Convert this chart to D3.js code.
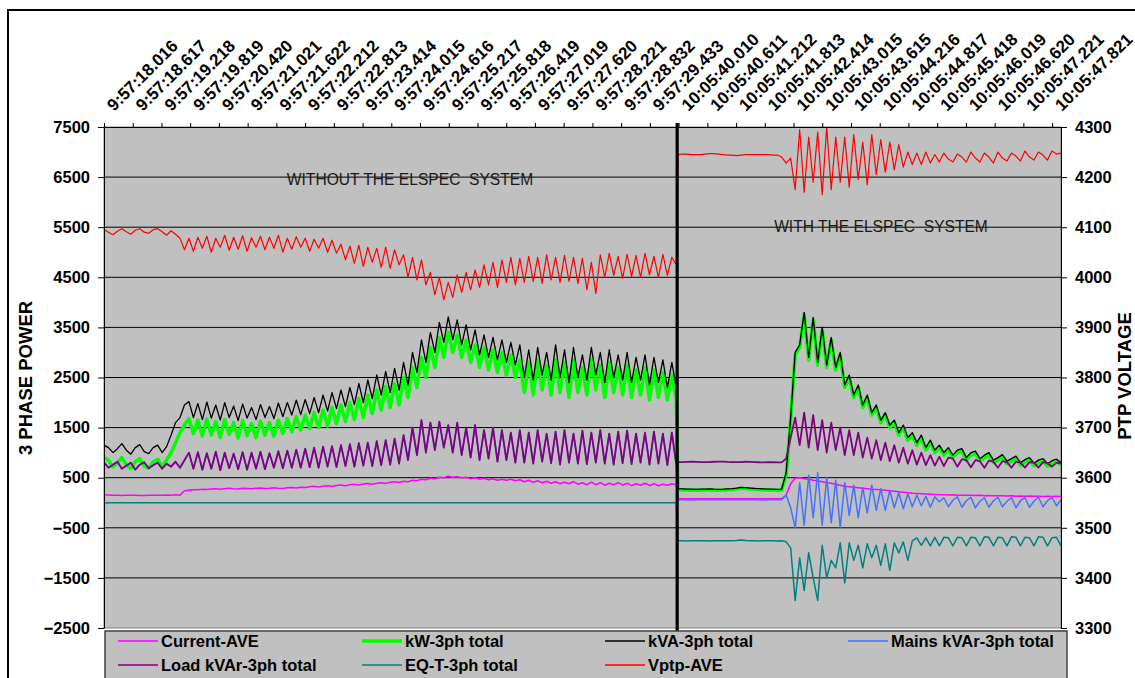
<!DOCTYPE html>
<html>
<head>
<meta charset="utf-8">
<script src="https://cdn.jsdelivr.net/npm/d3@7"></script>
<style>
  body { margin: 0; background: #fff; }
  svg  { display: block; font-family: "Liberation Sans", Arial, sans-serif; }
  .axis text { font-weight: bold; font-size: 16.5px; fill: #000; }
  .axis path, .axis line { stroke: #000; }
  .xlab text { font-weight: bold; font-size: 17px; fill: #000; }
</style>
</head>
<body>
<svg id="chart" width="1135" height="678"></svg>
<script>
// ── Data ─────────────────────────────────────────────────────────────────────
const xLabels = [
  "9:57:18.016","9:57:18.617","9:57:19.218","9:57:19.819","9:57:20.420",
  "9:57:21.021","9:57:21.622","9:57:22.212","9:57:22.813","9:57:23.414",
  "9:57:24.015","9:57:24.616","9:57:25.217","9:57:25.818","9:57:26.419",
  "9:57:27.019","9:57:27.620","9:57:28.221","9:57:28.832","9:57:29.433",
  "10:05:40.010","10:05:40.611","10:05:41.212","10:05:41.813","10:05:42.414",
  "10:05:43.015","10:05:43.615","10:05:44.216","10:05:44.817","10:05:45.418",
  "10:05:46.019","10:05:46.620","10:05:47.221","10:05:47.821"
];
const powerTicks   = [-2500, -1500, -500, 500, 1500, 2500, 3500, 4500, 5500, 6500, 7500];
const voltageTicks = [3300, 3400, 3500, 3600, 3700, 3800, 3900, 4000, 4100, 4200, 4300];

// label-index span of each recording (left: without, right: with the system)
const SEG_L = [0, 19.92];
const SEG_R = [19.98, 33.31];

// Current-AVE
const curL = [160,155,150,150,145,150,150,150,145,145,150,150,150,150,155,150,160,150,
  240,250,260,260,270,265,275,280,270,280,290,280,275,290,285,280,290,295,285,290,300,290,285,300,305,295,
  310,305,320,330,315,330,340,325,345,355,340,360,370,355,375,385,370,390,400,385,410,420,405,
  430,420,450,440,470,460,490,480,510,500,
  530,510,520,500,510,480,500,470,490,460,480,450,470,450,470,440,
  460,420,450,410,440,400,430,390,420,380,410,380,420,370,400,360,410,360,400,350,390,360,400,350,390,340,380,350,390,340,380,340,370,350,380,360];
const curR = [80,78,78,80,80,82,80,80,78,78,80,82,80,80,78,80,80,82,80,78,78,80,80,82,
  150,380,490,500,480,470,450,440,420,400,390,370,350,
  330,320,310,300,290,280,270,265,260,
  250,240,230,220,210,200,190,
  185,180,175,170,165,160,
  160,155,158,150,152,148,150,145,148,140,145,140,138,142,135,138,132,135,130,134,128,132,126,130,125,128,125];

// kW-3ph total
const kwL = [900,850,720,800,900,760,680,820,880,730,690,820,870,720,850,
  1000,1200,1400,1550,
  1680,1380,1650,1330,1670,1350,1620,1300,1660,1360,1600,1290,1640,1340,1580,1300,1630,1350,1600,1330,1650,1380,1680,1420,1720,
  1450,1750,1480,1800,1500,1850,1530,1900,1580,1950,1620,2000,1660,2080,1700,2150,1780,2250,1850,2320,1900,2380,1950,
  2500,2100,2700,2300,2900,2500,3100,2700,3300,2900,
  3400,3000,3350,2900,3250,2800,3150,2700,3100,2650,3050,2600,3000,2550,2950,2500,
  2850,2200,2800,2150,2850,2250,2750,2150,2850,2200,2800,2100,2850,2200,2700,2150,2850,2250,2750,2100,2800,2200,2700,2150,2750,2100,2650,2150,2700,2050,2650,2100,2600,2050,2550,2050];
const kwR = [260,255,252,250,250,252,255,255,252,250,252,258,262,272,288,282,275,268,262,258,255,252,250,255,
  550,1650,2950,3100,3750,2850,3650,2750,3450,2700,3250,2650,2950,
  2300,2500,2100,2300,1900,2100,1750,1900,1600,
  1750,1500,1600,1350,1500,1250,1350,
  1150,1300,1050,1200,1000,1100,
  950,1050,900,1000,1030,850,950,980,830,900,950,800,850,910,780,830,880,750,810,850,740,800,830,730,790,820,750];

// kVA-3ph total
const kvaL = [1150,1100,1000,1080,1180,1050,970,1100,1160,1020,980,1100,1150,1000,1120,
  1350,1600,1700,1950,
  2020,1700,1980,1660,2010,1690,1950,1650,2000,1700,1930,1640,1970,1690,1900,1660,1960,1700,1920,1680,1990,1720,2000,1750,2050,
  1760,2060,1780,2100,1800,2150,1830,2200,1880,2250,1920,2300,1960,2380,2000,2450,2080,2550,2150,2620,2200,2680,2250,
  2800,2350,3000,2600,3250,2800,3400,3000,3600,3200,
  3710,3250,3650,3150,3550,3050,3450,2950,3350,2900,3300,2850,3250,2800,3200,2750,
  3150,2500,3050,2450,3100,2550,3000,2450,3150,2500,3050,2400,3100,2500,2950,2450,3100,2550,3000,2400,3050,2500,2950,2450,3000,2400,2900,2450,2950,2350,2900,2400,2850,2300,2800,2300];
const kvaR = [280,275,272,270,268,270,272,275,270,268,270,275,280,290,305,300,292,285,280,275,272,270,268,272,
  600,1700,3000,3150,3800,2900,3700,2800,3500,2750,3300,2700,3000,
  2350,2550,2150,2350,1950,2150,1800,1950,1650,
  1800,1550,1650,1400,1550,1300,1400,
  1200,1350,1100,1250,1050,1150,
  1000,1100,950,1050,1080,900,1000,1030,880,950,1000,850,900,960,830,880,930,800,860,900,790,850,880,780,840,870,800];

// Load kVAr-3ph total
const loadL = [800,700,760,820,680,740,800,660,760,810,690,750,800,680,780,
  720,820,700,850,
  1000,680,1010,660,990,680,1020,650,1000,690,980,670,1010,660,1000,680,1020,670,990,700,1030,690,1040,700,1060,
  700,1080,710,1100,700,1120,720,1130,710,1150,730,1170,720,1190,740,1200,730,1230,750,1250,760,1280,780,
  1350,850,1500,950,1650,1000,1600,1050,1620,1100,
  1550,1000,1600,950,1500,900,1550,850,1450,880,1500,820,1450,850,1400,800,
  1450,800,1400,780,1450,820,1380,790,1420,760,1450,800,1380,780,1440,770,1400,800,1450,780,1380,760,1420,790,1440,770,1380,800,1400,760,1420,780,1380,750,1400,760];
const loadR = [810,812,815,818,815,812,810,812,818,822,820,815,812,810,812,818,815,812,808,806,808,810,806,805,
  880,1300,1700,1150,1800,1100,1750,1050,1650,1000,1600,1050,1500,
  950,1450,950,1400,900,1300,880,1250,850,
  1200,830,1150,800,1100,780,1050,
  760,1000,750,950,740,920,
  730,900,880,720,870,850,710,850,830,700,840,820,700,830,810,700,820,800,700,810,800,700,810,790,720,800,780];

// Mains kVAr-3ph total (before compensation the mains carry the whole load kVAr)
const mainsL = loadL;
const mainsR = [60,58,55,55,60,62,60,58,60,62,65,62,60,58,60,62,60,58,55,55,58,60,60,62,
  150,-100,-500,400,-450,550,-300,600,-450,500,-400,450,-500,
  400,-250,350,-300,300,-200,350,-150,280,
  -150,250,-100,200,-120,180,-80,
  150,-60,130,-90,120,20,
  100,-80,50,120,-90,40,110,-100,30,100,-90,40,110,-80,30,100,-100,40,100,-90,30,110,-80,40,100,-60,60];

// EQ-T-3ph total
const eqtL = [0,0,0,0,0,0,0,0,0];
const eqtR = [-760,-760,-762,-760,-758,-760,-760,-762,-760,-760,-758,-760,-760,-755,-745,-755,-760,-760,-762,-760,-760,-760,-762,-760,
  -780,-900,-1950,-1100,-1750,-1000,-1500,-1950,-850,-1500,-1150,-1300,-800,
  -1600,-800,-1150,-850,-1300,-820,-1100,-850,-1250,
  -820,-1350,-800,-1000,-780,-1150,-760,
  -700,-850,-700,-860,-690,-860,
  -690,-700,-860,-690,-700,-860,-690,-700,-860,-680,-690,-860,-690,-700,-860,-680,-690,-860,-690,-700,-860,-680,-690,-860,-700,-690,-860];

// Vptp-AVE (right axis)
const vptpL = [4095,4090,4085,4092,4097,4091,4086,4094,4097,4090,4088,4095,4097,4091,4084,4093,4086,4078,
  4055,4078,4052,4080,4058,4082,4050,4078,4060,4084,4054,4080,4056,4083,4052,4079,4060,4082,4055,4080,4058,4084,4050,4078,4056,4081,4060,4078,4052,4076,4058,4078,4050,4074,4048,
  4066,4035,4062,4028,4064,4022,4060,4030,4058,4020,4060,4018,4055,4025,
  4045,4000,4040,3995,4035,3985,4010,
  3965,4000,3955,3990,
  3960,4005,3970,4010,3975,4015,3980,
  4025,3985,4030,3980,4035,3990,4040,3985,4038,
  3990,4042,3992,4040,3988,4045,3995,4040,3990,4044,3992,4040,3988,4038,3975,
  4030,3968,
  4045,4000,4048,4004,4042,3998,4046,4002,4044,4000,4048,4005,4042,4000,4046,4004,4040,4025];
const vptpR = [4245,4246,4246,4245,4245,4245,4246,4247,4247,4246,4245,4244,4244,4243,4244,4245,4245,4245,4245,4245,4245,4244,4244,4240,
  4228,4238,4175,4295,4170,4280,4190,4290,4165,4300,4175,4280,4190,
  4280,4180,4285,4195,4270,4185,4285,4205,4275,
  4210,4270,4215,4265,4220,4250,4225,
  4248,4225,4250,4228,4245,4230,
  4248,4236,4230,4246,4240,4230,4250,4238,4230,4248,4240,4228,4250,4238,4232,4248,4242,4232,4252,4240,4234,4250,4244,4234,4252,4246,4248];

const series = [
  { name: "Current-AVE",          color: "#FF00FF", width: 1.5, axis: "L", left: curL,   right: curR   },
  { name: "kW-3ph total",         color: "#00FF00", width: 3.5, axis: "L", left: kwL,    right: kwR    },
  { name: "kVA-3ph total",        color: "#000000", width: 1.3, axis: "L", left: kvaL,   right: kvaR   },
  { name: "Mains kVAr-3ph total", color: "#4472FF", width: 1.5, axis: "L", left: mainsL, right: mainsR },
  { name: "Load kVAr-3ph total",  color: "#800080", width: 1.8, axis: "L", left: loadL,  right: loadR  },
  { name: "EQ-T-3ph total",       color: "#008080", width: 1.5, axis: "L", left: eqtL,   right: eqtR   },
  { name: "Vptp-AVE",             color: "#FF0000", width: 1.2, axis: "R", left: vptpL,  right: vptpR  }
];
const legendOrder = [
  "Current-AVE", "kW-3ph total", "kVA-3ph total", "Mains kVAr-3ph total",
  "Load kVAr-3ph total", "EQ-T-3ph total", "Vptp-AVE"
];

// ── Chart ────────────────────────────────────────────────────────────────────
const svg = d3.select("#chart");
const P = { left: 104, right: 1061, top: 127, bottom: 628 };

const x  = d3.scaleLinear().domain([0, 33.31]).range([P.left, P.right]);
const yL = d3.scaleLinear().domain([-2500, 7500]).range([P.bottom, P.top]);
const yR = d3.scaleLinear().domain([3300, 4300]).range([P.bottom, P.top]);

// outer chart frame
svg.append("rect")
  .attr("x", 8).attr("y", 10).attr("width", 1200).attr("height", 720)
  .attr("fill", "#fff").attr("stroke", "#000").attr("stroke-width", 2);

// plot area
svg.append("rect")
  .attr("x", P.left).attr("y", P.top)
  .attr("width", P.right - P.left).attr("height", P.bottom - P.top)
  .attr("fill", "#C0C0C0").attr("stroke", "#808080");

svg.append("defs").append("clipPath").attr("id", "plotclip")
  .append("rect")
  .attr("x", P.left).attr("y", P.top - 1)
  .attr("width", P.right - P.left).attr("height", P.bottom - P.top + 2);

// gridlines
svg.append("g").selectAll("line")
  .data(powerTicks.filter(v => v > -2500 && v < 7500))
  .join("line")
  .attr("x1", P.left).attr("x2", P.right)
  .attr("y1", d => yL(d)).attr("y2", d => yL(d))
  .attr("stroke", "#000").attr("stroke-width", 1);

// annotations
svg.append("text")
  .attr("x", 410).attr("y", 185)
  .attr("text-anchor", "middle")
  .style("white-space", "pre")
  .attr("font-size", 15.6).attr("fill", "#1a1a1a")
  .text("WITHOUT THE ELSPEC  SYSTEM");
svg.append("text")
  .attr("x", 881).attr("y", 232)
  .attr("text-anchor", "middle")
  .style("white-space", "pre")
  .attr("font-size", 15.6).attr("fill", "#1a1a1a")
  .text("WITH THE ELSPEC  SYSTEM");

// series
function points(s) {
  const a = s.left.map((v, i) => ({ t: SEG_L[0] + i * (SEG_L[1] - SEG_L[0]) / (s.left.length - 1), v }));
  const b = s.right.map((v, i) => ({ t: SEG_R[0] + i * (SEG_R[1] - SEG_R[0]) / (s.right.length - 1), v }));
  return a.concat(b);
}
const gLines = svg.append("g").attr("clip-path", "url(#plotclip)");
series.forEach(s => {
  const y = s.axis === "R" ? yR : yL;
  gLines.append("path").datum(points(s))
    .attr("fill", "none")
    .attr("stroke", s.color)
    .attr("stroke-width", s.width)
    .attr("stroke-linejoin", "round")
    .attr("d", d3.line().x(d => x(d.t)).y(d => y(d.v)));
});

// divider between the two recordings
svg.append("line")
  .attr("x1", x(19.95)).attr("x2", x(19.95))
  .attr("y1", P.top - 4).attr("y2", P.bottom + 4)
  .attr("stroke", "#000").attr("stroke-width", 3.2);

// axes
svg.append("g").attr("class", "axis")
  .attr("transform", `translate(${P.left},0)`)
  .call(d3.axisLeft(yL).tickValues(powerTicks).tickFormat(d3.format("d"))
    .tickSize(6).tickSizeOuter(0).tickPadding(8));
svg.append("g").attr("class", "axis")
  .attr("transform", `translate(${P.right},0)`)
  .call(d3.axisRight(yR).tickValues(voltageTicks).tickFormat(d3.format("d"))
    .tickSize(6).tickSizeOuter(0).tickPadding(8));
svg.append("g").attr("class", "axis")
  .attr("transform", `translate(0,${P.top})`)
  .call(d3.axisTop(x).tickValues(d3.range(xLabels.length)).tickSize(4).tickSizeOuter(0).tickFormat(""));

svg.append("g").attr("class", "xlab")
  .selectAll("text")
  .data(xLabels)
  .join("text")
  .attr("transform", (d, i) => `translate(${x(i) + 10},112) rotate(-45)`)
  .attr("text-anchor", "start")
  .text(d => d);

// axis titles
svg.append("text")
  .attr("transform", "translate(32,378) rotate(-90)")
  .attr("text-anchor", "middle")
  .attr("font-weight", "bold").attr("font-size", 18.5)
  .text("3 PHASE POWER");
svg.append("text")
  .attr("transform", "translate(1131,376) rotate(-90)")
  .attr("text-anchor", "middle")
  .attr("font-weight", "bold").attr("font-size", 18.5)
  .text("PTP VOLTAGE");

// legend
const legend = svg.append("g");
legend.append("rect")
  .attr("x", 105).attr("y", 631).attr("width", 962).attr("height", 70)
  .attr("fill", "#C0C0C0").attr("stroke", "#404040").attr("stroke-width", 1.5);
const colX = [118, 362, 605, 848];
legendOrder.forEach((name, i) => {
  const s = series.find(d => d.name === name);
  const lx = colX[i % 4], ly = i < 4 ? 641 : 665;
  legend.append("line")
    .attr("x1", lx).attr("x2", lx + 40).attr("y1", ly).attr("y2", ly)
    .attr("stroke", s.color).attr("stroke-width", name === "kW-3ph total" ? 3.5 : 1.5);
  legend.append("text")
    .attr("x", lx + 43).attr("y", ly + 6)
    .attr("font-weight", "bold").attr("font-size", 16.5)
    .text(name);
});
</script>
</body>
</html>
